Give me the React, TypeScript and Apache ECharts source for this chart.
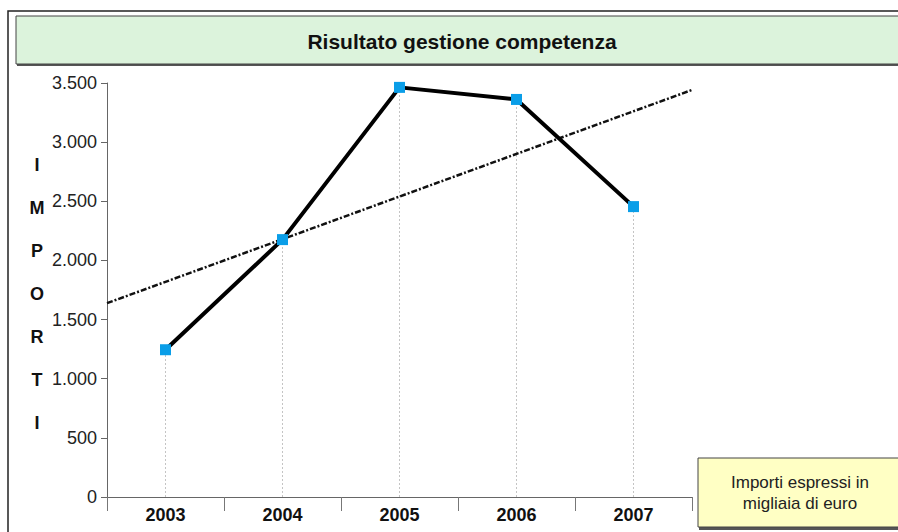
import React, { useEffect, useRef } from "react";
import * as echarts from "echarts";

const years = ["2003", "2004", "2005", "2006", "2007"];
const values = [1245, 2176, 3463, 3361, 2455];
const yTicks = { min: 0, max: 3500, interval: 500 };
const titleText = "Risultato gestione competenza";
const axisNameLetters = ["I", "M", "P", "O", "R", "T", "I"];
const noteLines = ["Importi espressi in", "migliaia di euro"];

function fmt(v: number): string {
  return String(Math.round(v)).replace(/\B(?=(\d{3})+(?!\d))/g, ".");
}

function linearTrend(vals: number[]) {
  const n = vals.length;
  const xs = vals.map((_, i) => i + 1);
  const mx = xs.reduce((a, b) => a + b, 0) / n;
  const my = vals.reduce((a, b) => a + b, 0) / n;
  let num = 0;
  let den = 0;
  for (let i = 0; i < n; i++) {
    num += (xs[i] - mx) * (vals[i] - my);
    den += (xs[i] - mx) * (xs[i] - mx);
  }
  const slope = num / den;
  const at = (x: number) => my + slope * (x - mx);
  return [
    [0.5, at(0.5)],
    [n + 0.5, at(n + 0.5)],
  ];
}

export default function App() {
  const ref = useRef<HTMLDivElement>(null);
  useEffect(() => {
    if (!ref.current) return;
    const chart = echarts.init(ref.current, undefined, { renderer: "svg" });
    const font = "'Liberation Sans', Arial, sans-serif";
    const option: any = {
      animation: false,
      backgroundColor: "#ffffff",
      grid: { left: 107, right: 206, top: 83, bottom: 35, containLabel: false },
      xAxis: [
        {
          type: "category",
          data: years,
          boundaryGap: true,
          axisLine: { show: true, lineStyle: { color: "#666666", width: 1 } },
          axisTick: { show: true, length: 14, lineStyle: { color: "#777777" } },
          axisLabel: {
            color: "#111111",
            fontFamily: font,
            fontWeight: "bold",
            fontSize: 18,
            margin: 9,
          },
          splitLine: { show: false },
        },
        {
          type: "value",
          min: 0.5,
          max: years.length + 0.5,
          show: false,
        },
      ],
      yAxis: {
        type: "value",
        min: yTicks.min,
        max: yTicks.max,
        interval: yTicks.interval,
        axisLine: { show: true, lineStyle: { color: "#666666", width: 1 } },
        axisTick: { show: true, length: 6, lineStyle: { color: "#666666" } },
        axisLabel: {
          color: "#222222",
          fontFamily: font,
          fontSize: 18,
          margin: 10,
          formatter: (v: number) => fmt(v),
        },
        splitLine: { show: false },
      },
      series: [
        {
          type: "line",
          name: "trend",
          xAxisIndex: 1,
          data: linearTrend(values),
          symbol: "none",
          lineStyle: { color: "#111111", width: 2.5, type: [6, 2, 2, 2] },
          silent: true,
          z: 2,
        },
        {
          type: "line",
          name: "Risultato",
          data: values,
          symbol: "rect",
          symbolSize: 11,
          itemStyle: { color: "#0a9ee8", borderWidth: 0 },
          lineStyle: { color: "#000000", width: 4 },
          z: 3,
          markLine: {
            silent: true,
            symbol: "none",
            label: { show: false },
            lineStyle: { color: "#c4c4c4", width: 1, type: [2, 2] },
            data: values.map((v, i) => [
              { coord: [years[i], 0] },
              { coord: [years[i], v] },
            ]),
            z: 1,
          },
        },
      ],
      graphic: [
        {
          type: "rect",
          shape: { x: 8, y: 11, width: 1000, height: 1000 },
          style: { fill: "none", stroke: "#222222", lineWidth: 1.5 },
          silent: true,
          z: 0,
        },
        {
          type: "rect",
          shape: { x: 17, y: 18, width: 1000, height: 48 },
          style: { fill: "#555555" },
          silent: true,
        },
        {
          type: "rect",
          shape: { x: 16, y: 16, width: 1000, height: 48 },
          style: { fill: "#dcf3dc", stroke: "#444444", lineWidth: 1 },
          silent: true,
        },
        {
          type: "text",
          x: 462,
          y: 41,
          style: {
            text: titleText,
            font: `bold 21px ${font}`,
            fill: "#111111",
            align: "center",
            verticalAlign: "middle",
          },
          silent: true,
        },
        {
          type: "text",
          x: 37,
          y: 294,
          style: {
            text: axisNameLetters.join("\n"),
            font: `bold 18px ${font}`,
            lineHeight: 43,
            fill: "#111111",
            align: "center",
            verticalAlign: "middle",
          },
          silent: true,
        },
        {
          type: "rect",
          shape: { x: 699, y: 460, width: 300, height: 70 },
          style: { fill: "#555555" },
          silent: true,
        },
        {
          type: "rect",
          shape: { x: 698, y: 458, width: 300, height: 69 },
          style: { fill: "#ffffc4", stroke: "#444444", lineWidth: 1 },
          silent: true,
        },
        {
          type: "text",
          x: 800,
          y: 493,
          style: {
            text: noteLines.join("\n"),
            font: `17px ${font}`,
            lineHeight: 21,
            fill: "#222222",
            align: "center",
            verticalAlign: "middle",
          },
          silent: true,
        },
      ],
    };
    chart.setOption(option);
    return () => chart.dispose();
  }, []);
  return (
    <div
      ref={ref}
      style={{ position: "absolute", left: 0, top: 0, width: 898, height: 532 }}
    />
  );
}
